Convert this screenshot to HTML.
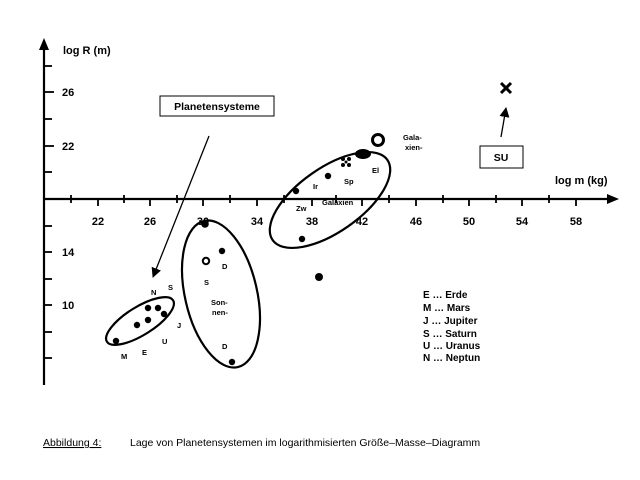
<!DOCTYPE html>
<html><head><meta charset="utf-8"><style>
body{margin:0;background:#fff}
svg{display:block}
text{font-family:"Liberation Sans",Arial,sans-serif;font-weight:bold;fill:#000}
</style></head><body>
<svg width="640" height="480" viewBox="0 0 640 480" xmlns="http://www.w3.org/2000/svg">
<defs><marker id="ah" markerWidth="10" markerHeight="10" refX="9" refY="5" orient="auto" markerUnits="userSpaceOnUse"><path d="M0,0 L10,5 L0,10 Z" fill="#000"/></marker></defs>
<g stroke="#000" stroke-width="2.2" fill="none">
<line x1="44" y1="385" x2="44" y2="46"/>
<line x1="44" y1="199" x2="610" y2="199"/>
</g>
<path d="M44,38 L39,50 L49,50 Z"/>
<path d="M619,199 L607,194 L607,204 Z"/>
<g stroke="#000" stroke-width="1.8">
<line x1="71" y1="195" x2="71" y2="203"/><line x1="98" y1="199" x2="98" y2="206"/>
<line x1="124" y1="195" x2="124" y2="203"/><line x1="150" y1="199" x2="150" y2="206"/>
<line x1="177" y1="195" x2="177" y2="203"/><line x1="203" y1="199" x2="203" y2="206"/>
<line x1="230" y1="195" x2="230" y2="203"/><line x1="257" y1="199" x2="257" y2="206"/>
<line x1="284" y1="195" x2="284" y2="203"/><line x1="312" y1="199" x2="312" y2="206"/>
<line x1="336" y1="195" x2="336" y2="203"/><line x1="362" y1="199" x2="362" y2="206"/>
<line x1="389" y1="195" x2="389" y2="203"/><line x1="416" y1="199" x2="416" y2="206"/>
<line x1="443" y1="195" x2="443" y2="203"/><line x1="469" y1="199" x2="469" y2="206"/>
<line x1="496" y1="195" x2="496" y2="203"/><line x1="522" y1="199" x2="522" y2="206"/>
<line x1="549" y1="195" x2="549" y2="203"/><line x1="576" y1="199" x2="576" y2="206"/>
<line x1="44" y1="66" x2="52" y2="66"/><line x1="44" y1="92" x2="54" y2="92"/>
<line x1="44" y1="119" x2="52" y2="119"/><line x1="44" y1="146" x2="54" y2="146"/>
<line x1="44" y1="172" x2="52" y2="172"/>
<line x1="44" y1="226" x2="52" y2="226"/><line x1="44" y1="252" x2="52" y2="252"/>
<line x1="44" y1="279" x2="52" y2="279"/><line x1="44" y1="305" x2="52" y2="305"/>
<line x1="44" y1="332" x2="52" y2="332"/><line x1="44" y1="358" x2="52" y2="358"/>
</g>
<g font-size="11" text-anchor="middle">
<text x="98" y="225">22</text><text x="150" y="225">26</text><text x="203" y="225">30</text>
<text x="257" y="225">34</text><text x="312" y="225">38</text><text x="362" y="225">42</text>
<text x="416" y="225">46</text><text x="469" y="225">50</text><text x="522" y="225">54</text>
<text x="576" y="225">58</text>
</g>
<g font-size="11">
<text x="62" y="96">26</text><text x="62" y="150">22</text>
<text x="62" y="256">14</text><text x="62" y="309">10</text>
<text x="63" y="54">log R (m)</text>
<text x="555" y="184">log m (kg)</text>
</g>
<rect x="160" y="96" width="114" height="20" fill="none" stroke="#000" stroke-width="1"/>
<text x="217" y="110" font-size="10.5" text-anchor="middle">Planetensysteme</text>
<line x1="209" y1="136" x2="153" y2="277" stroke="#000" stroke-width="1.3" marker-end="url(#ah)"/>
<rect x="480" y="146" width="43" height="22" fill="none" stroke="#000" stroke-width="1"/>
<text x="501" y="161" font-size="10.5" text-anchor="middle">SU</text>
<line x1="501" y1="137" x2="506" y2="108" stroke="#000" stroke-width="1.3" marker-end="url(#ah)"/>
<g stroke="#000" stroke-width="3"><line x1="501" y1="83" x2="511" y2="93"/><line x1="511" y1="83" x2="501" y2="93"/></g>
<circle cx="378" cy="140" r="5.5" fill="none" stroke="#000" stroke-width="3"/>
<g font-size="7.5"><text x="403" y="140">Gala-</text><text x="405" y="150">xien-</text></g>
<g fill="none" stroke="#000" stroke-width="2.2">
<ellipse cx="330" cy="200" rx="70" ry="32" transform="rotate(-35 330 200)"/>
<ellipse cx="221" cy="294" rx="36" ry="75" transform="rotate(-13 221 294)"/>
<ellipse cx="140" cy="321" rx="39" ry="14" transform="rotate(-32 140 321)"/>
</g>
<ellipse cx="363" cy="154" rx="8" ry="5"/>
<g><circle cx="343" cy="159" r="2"/><circle cx="349" cy="159" r="2"/><circle cx="343" cy="165" r="2"/><circle cx="349" cy="165" r="2"/><circle cx="346" cy="162" r="1.5"/></g>
<g>
<circle cx="328" cy="176" r="3.2"/><circle cx="296" cy="191" r="3.2"/><circle cx="302" cy="239" r="3.2"/>
<circle cx="319" cy="277" r="4"/><circle cx="205" cy="224" r="3.8"/><circle cx="222" cy="251" r="3.2"/>
<circle cx="232" cy="362" r="3.2"/>
<circle cx="116" cy="341" r="3.2"/><circle cx="137" cy="325" r="3.2"/><circle cx="148" cy="320" r="3.2"/>
<circle cx="148" cy="308" r="3.2"/><circle cx="158" cy="308" r="3.2"/><circle cx="164" cy="314" r="3.2"/>
</g>
<circle cx="206" cy="261" r="3.2" fill="#fff" stroke="#000" stroke-width="2"/>
<g font-size="7.5">
<text x="313" y="189">Ir</text><text x="344" y="184">Sp</text><text x="372" y="173">El</text>
<text x="296" y="211">Zw</text><text x="322" y="205">Galaxien</text>
<text x="222" y="269">D</text><text x="204" y="285">S</text>
<text x="211" y="305">Son-</text><text x="212" y="315">nen-</text><text x="222" y="349">D</text>
<text x="151" y="295">N</text><text x="168" y="290">S</text><text x="177" y="328">J</text>
<text x="162" y="344">U</text><text x="142" y="355">E</text><text x="121" y="359">M</text>
</g>
<g font-size="10">
<text x="423" y="298">E  … Erde</text><text x="423" y="311">M … Mars</text>
<text x="423" y="324">J  … Jupiter</text><text x="423" y="337">S … Saturn</text>
<text x="423" y="349">U … Uranus</text><text x="423" y="361">N … Neptun</text>
</g>
<g font-size="10.5" style="font-weight:normal">
<text x="43" y="446" style="font-weight:normal;text-decoration:underline">Abbildung 4:</text>
<text x="130" y="446" style="font-weight:normal">Lage von Planetensystemen im logarithmisierten Größe–Masse–Diagramm</text>
</g>
</svg>
</body></html>
